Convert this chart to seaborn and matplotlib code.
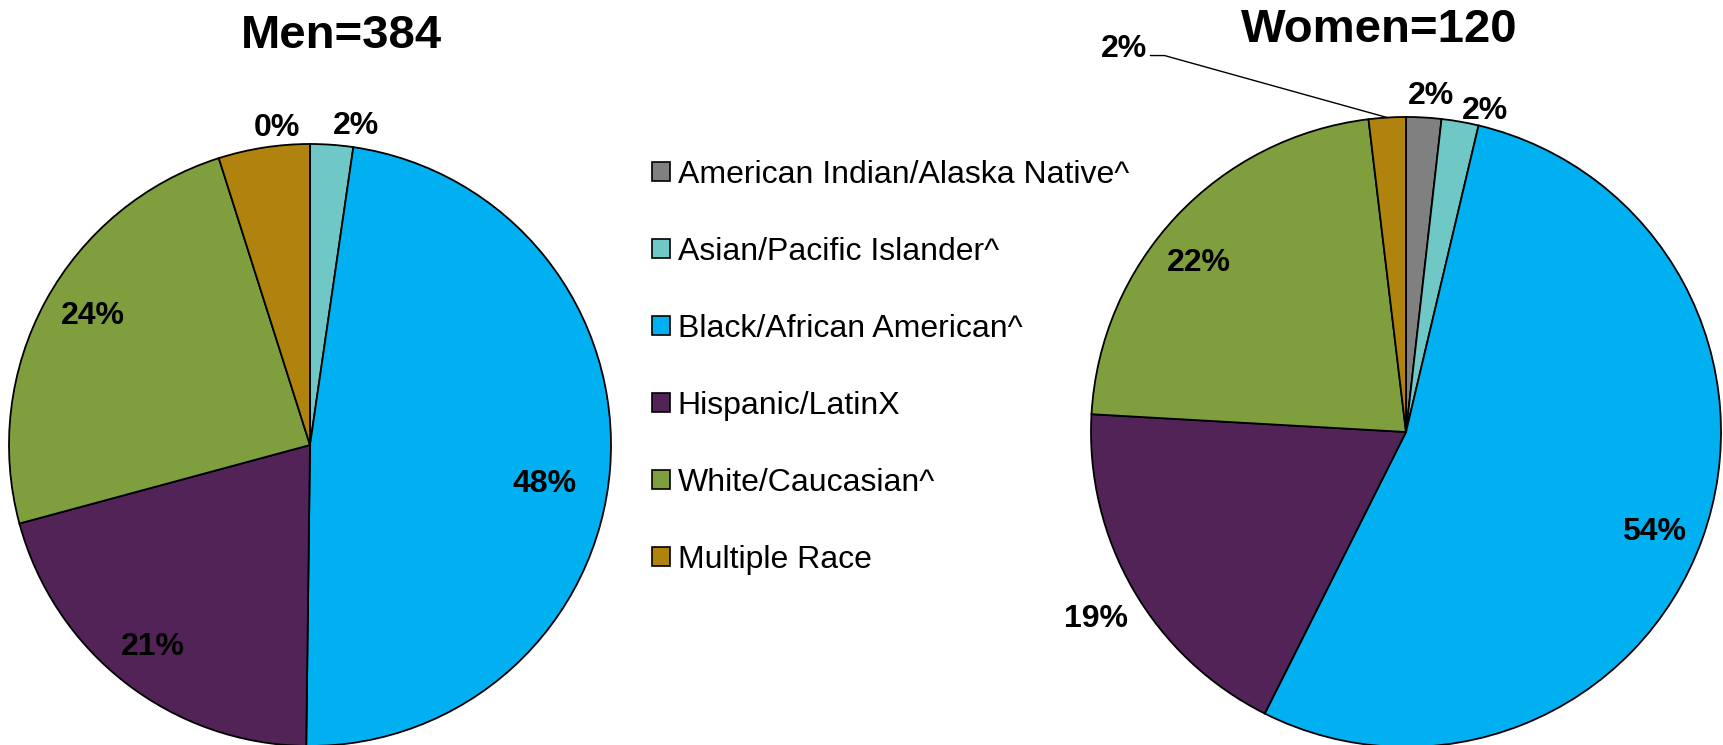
import numpy as np
import matplotlib
matplotlib.use("Agg")
import matplotlib.pyplot as plt
import seaborn as sns
from matplotlib import font_manager as fm
from matplotlib.patches import Patch

categories = ['American Indian/Alaska Native^', 'Asian/Pacific Islander^',
              'Black/African American^', 'Hispanic/LatinX',
              'White/Caucasian^', 'Multiple Race']
colors = ['#808080', '#70C8C6', '#00B0F0', '#512357', '#7F9F3F', '#B0830F']

men_title = 'Men=384'
men_values = [0.0, 2.3, 47.9, 20.6, 24.3, 4.9]
men_labels = ['0%', '2%', '48%', '21%', '24%', '']

women_title = 'Women=120'
women_values = [1.8, 1.9, 53.7, 18.5, 22.2, 1.9]
women_labels = ['2%', '2%', '54%', '19%', '22%', '2%']

sns.set_style('white')
names = {f.name for f in fm.fontManager.ttflist}
if 'Liberation Sans Narrow' in names:
    bold_font = 'Liberation Sans Narrow'
    title_size, pct_size = 40, 27
else:
    bold_font = 'Liberation Sans'
    title_size, pct_size = 34, 23
plt.rcParams['font.family'] = ['Liberation Sans', 'DejaVu Sans']
plt.rcParams['text.color'] = 'black'

W, H = 1723, 745
fig = plt.figure(figsize=(W / 100, H / 100), dpi=100)


def pie_axes(cx, cy, r):
    return fig.add_axes([(cx - r) / W, (H - cy - r) / H, 2 * r / W, 2 * r / H])


def draw_pie(ax, values, labels, dists, shifts):
    wedges, _ = ax.pie(values, colors=colors, startangle=90, counterclock=False,
                       radius=1, wedgeprops=dict(edgecolor='black', linewidth=1.3))
    ax.set_xlim(-1, 1)
    ax.set_ylim(-1, 1)
    ax.set_aspect('equal')
    ax.axis('off')
    mids = []
    for w, lab, d, s in zip(wedges, labels, dists, shifts):
        mid = np.deg2rad((w.theta1 + w.theta2) / 2 + s)
        mids.append(mid)
        if lab:
            ax.text(d * np.cos(mid), d * np.sin(mid), lab, ha='center', va='center',
                    fontsize=pct_size, fontweight='bold', family=bold_font,
                    color='black', clip_on=False)
    return mids


ax1 = pie_axes(310, 445, 301)
draw_pie(ax1, men_values, men_labels,
         [1.06, 1.07, 0.79, 0.85, 0.84, 0.0], [6, -4, -5, 0, -2, 0])

ax2 = pie_axes(1406, 432, 315)
mids = draw_pie(ax2, women_values, women_labels,
                [1.07, 1.05, 0.85, 1.15, 0.85, 1.51], [-1, -4, -2, 1, 4, 33])
# leader line for the small Multiple Race slice
m = mids[5] - np.deg2rad(33)
lx, ly = 1.51 * np.cos(mids[5]), 1.51 * np.sin(mids[5])
ax2.plot([lx + 0.085, lx + 0.13, np.cos(m)], [ly - 0.02, ly - 0.02, np.sin(m)],
         color='black', linewidth=1, clip_on=False)

fig.text(341 / W, 1 - 36 / H, men_title, ha='center', va='center',
         fontsize=title_size, fontweight='bold', family=bold_font)
fig.text(1379 / W, 1 - 30 / H, women_title, ha='center', va='center',
         fontsize=title_size, fontweight='bold', family=bold_font)

handles = [Patch(facecolor=c, edgecolor='black', linewidth=1.2) for c in colors]
fig.legend(handles, categories, loc='upper left', bbox_to_anchor=(652 / W, 1 - 160 / H),
           frameon=False, fontsize=23, handlelength=0.55, handleheight=0.55,
           handletextpad=0.25, labelspacing=1.47, borderpad=0, borderaxespad=0)

fig.savefig('out.png', dpi=100)
